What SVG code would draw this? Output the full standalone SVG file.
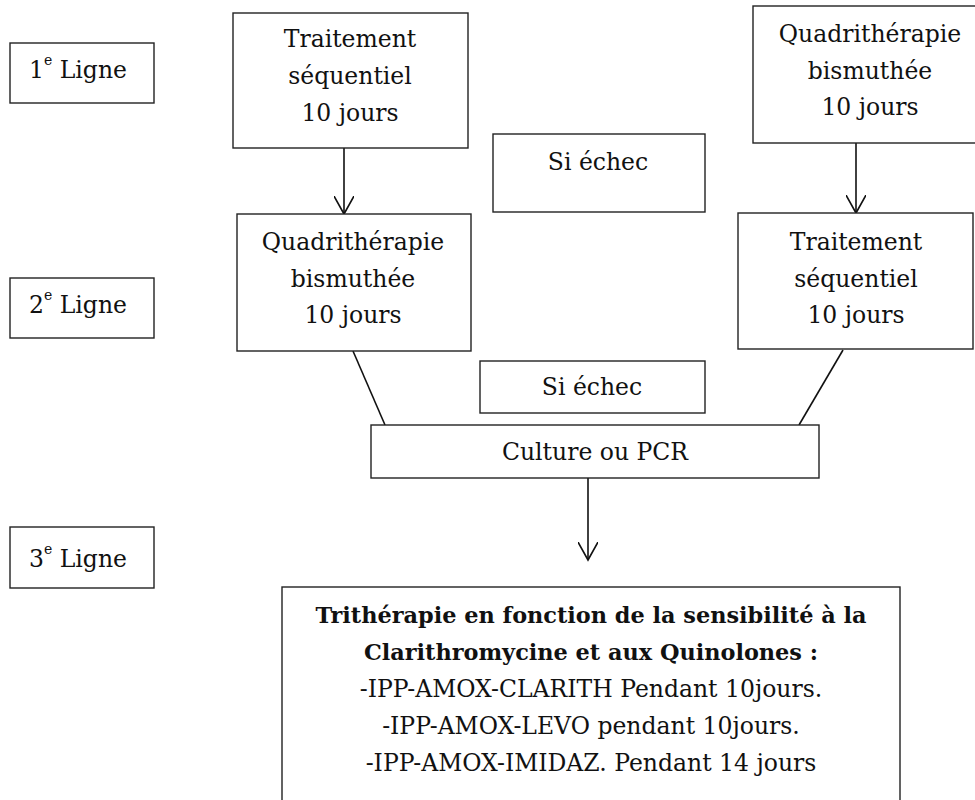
<svg xmlns="http://www.w3.org/2000/svg" width="975" height="800" viewBox="0 0 975 800">
<style>
.box{fill:#fff;stroke:#222;stroke-width:1.4}
.t{font-family:"DejaVu Serif","Liberation Serif",serif;font-size:23.5px;fill:#111;text-anchor:middle}
.l{font-family:"DejaVu Serif","Liberation Serif",serif;font-size:23.5px;fill:#111}
.sup{font-size:14px}
.b{font-family:"DejaVu Serif","Liberation Serif",serif;font-size:22.4px;font-weight:bold;fill:#111;text-anchor:middle}
.c{stroke:#111;stroke-width:1.6;fill:none}
</style>
<defs>
<marker id="v" viewBox="0 0 20 20" refX="18" refY="10" markerWidth="20" markerHeight="20" markerUnits="userSpaceOnUse" orient="auto">
<path d="M0,0 L18,10 L0,20" fill="none" stroke="#111" stroke-width="1.6"/>
</marker>
</defs>
<rect width="975" height="800" fill="#fff"/>
<g id="connectors">
<line class="c" x1="344" y1="148" x2="344" y2="214" marker-end="url(#v)"/>
<line class="c" x1="856" y1="143" x2="856" y2="213" marker-end="url(#v)"/>
<line class="c" x1="353" y1="351" x2="385" y2="425"/>
<line class="c" x1="843" y1="350" x2="799" y2="425"/>
<line class="c" x1="588" y1="478" x2="588" y2="560" marker-end="url(#v)"/>
</g>
<g id="ligne1">
<rect class="box" x="10" y="43" width="144" height="60"/>
<text class="l" x="29" y="78">1<tspan class="sup" dy="-13">e</tspan><tspan dy="13"> Ligne</tspan></text>
</g>
<g id="ligne2">
<rect class="box" x="10" y="278" width="144" height="60"/>
<text class="l" x="29" y="313">2<tspan class="sup" dy="-13">e</tspan><tspan dy="13"> Ligne</tspan></text>
</g>
<g id="ligne3">
<rect class="box" x="10" y="527" width="144" height="61"/>
<text class="l" x="29" y="567">3<tspan class="sup" dy="-13">e</tspan><tspan dy="13"> Ligne</tspan></text>
</g>
<g id="seq1">
<rect class="box" x="233" y="13" width="235" height="135"/>
<text class="t" x="350" y="47">Traitement</text>
<text class="t" x="350" y="84">séquentiel</text>
<text class="t" x="350" y="121">10 jours</text>
</g>
<g id="quad1">
<rect class="box" x="753" y="6" width="230" height="137"/>
<text class="t" x="870" y="42">Quadrithérapie</text>
<text class="t" x="870" y="79">bismuthée</text>
<text class="t" x="870" y="115">10 jours</text>
</g>
<g id="echec1">
<rect class="box" x="493" y="134" width="212" height="78"/>
<text class="t" x="598" y="170">Si échec</text>
</g>
<g id="quad2">
<rect class="box" x="237" y="214" width="234" height="137"/>
<text class="t" x="353" y="250">Quadrithérapie</text>
<text class="t" x="353" y="287">bismuthée</text>
<text class="t" x="353" y="323">10 jours</text>
</g>
<g id="seq2">
<rect class="box" x="738" y="213" width="235" height="136"/>
<text class="t" x="856" y="250">Traitement</text>
<text class="t" x="856" y="287">séquentiel</text>
<text class="t" x="856" y="323">10 jours</text>
</g>
<g id="echec2">
<rect class="box" x="480" y="361" width="225" height="52"/>
<text class="t" x="592" y="395">Si échec</text>
</g>
<g id="culture">
<rect class="box" x="371" y="425" width="448" height="53"/>
<text class="t" x="595" y="460">Culture ou PCR</text>
</g>
<g id="tritherapie">
<rect class="box" x="282" y="587" width="618" height="230"/>
<text class="b" x="591" y="623">Trithérapie en fonction de la sensibilité à la</text>
<text class="b" x="591" y="660">Clarithromycine et aux Quinolones :</text>
<text class="t" x="591" y="697">-IPP-AMOX-CLARITH Pendant 10jours.</text>
<text class="t" x="591" y="734">-IPP-AMOX-LEVO pendant 10jours.</text>
<text class="t" x="591" y="771">-IPP-AMOX-IMIDAZ. Pendant 14 jours</text>
</g>
</svg>
